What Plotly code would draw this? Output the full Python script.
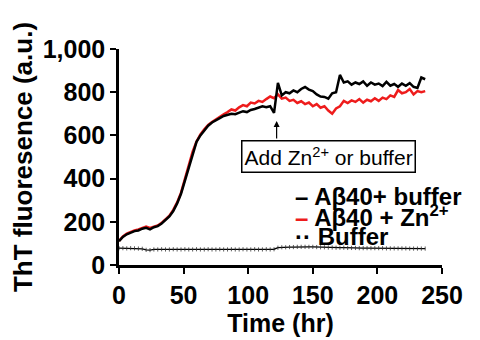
import plotly.graph_objects as go

time_hr = [0, 3, 6, 9, 12, 15, 18, 21, 24, 27, 30, 33, 36, 39, 42, 45, 48, 51, 54, 57,
           60, 63, 66, 69, 72, 75, 78, 81, 84, 87, 90, 93, 96, 99, 102, 105, 108, 111, 114, 117,
           120, 123, 126, 129, 132, 135, 138, 141, 144, 147, 150, 153, 156, 159, 162, 165, 168, 171, 174, 177,
           180, 183, 186, 189, 192, 195, 198, 201, 204, 207, 210, 213, 216, 219, 222, 225, 228, 231, 234, 237]

abeta_buffer = [110, 130, 142, 150, 157, 160, 168, 172, 165, 175, 180, 192, 210, 225, 250, 285, 330, 390, 450, 520,
                570, 600, 625, 645, 660, 672, 680, 690, 695, 700, 698, 705, 712, 708, 718, 722, 728, 735, 730, 735,
                704, 843, 785, 800, 795, 808, 800, 815, 824, 812, 805, 790, 780, 778, 770, 795, 800, 880, 845, 850,
                835, 845, 838, 850, 830, 845, 835, 840, 828, 848, 830, 838, 825, 840, 830, 842, 825, 820, 868, 860]

abeta_zn = [112, 132, 145, 153, 160, 165, 172, 178, 172, 178, 183, 195, 212, 228, 255, 290, 335, 395, 455, 525,
            572, 605, 628, 648, 662, 675, 685, 698, 708, 720, 715, 730, 740, 735, 752, 748, 760, 755, 768, 780,
            772, 790, 770, 775, 760, 765, 750, 758, 745, 752, 735, 745, 728, 735, 715, 700, 725, 735, 760, 750,
            762, 755, 768, 752, 765, 758, 772, 760, 775, 768, 785, 778, 810, 795, 800, 815, 790, 805, 800, 805]

buffer_only = [78, 78, 77, 78, 77, 76, 75, 70, 69, 72, 72, 73, 72, 72, 73, 72, 72, 73, 72, 72,
               73, 72, 72, 73, 72, 72, 73, 72, 72, 73, 72, 72, 73, 72, 72, 73, 72, 72, 73, 72,
               73, 80, 82, 82, 83, 83, 84, 84, 84, 84, 84, 83, 82, 82, 81, 81, 80, 80, 80, 79,
               79, 79, 78, 78, 78, 78, 78, 78, 78, 77, 77, 77, 77, 77, 77, 76, 76, 76, 76, 76]

x_ticks = [0, 50, 100, 150, 200, 250]
y_ticks = [0, 200, 400, 600, 800, 1000]

FONT = "Liberation Sans, Arial, sans-serif"

fig = go.Figure()
fig.add_trace(go.Scatter(x=time_hr, y=buffer_only, mode="lines+markers",
                         line=dict(color="black", width=1.3),
                         marker=dict(symbol="line-ns-open", size=3, color="#333",
                                     line=dict(width=0.8, color="#333")),
                         showlegend=False))
fig.add_trace(go.Scatter(x=time_hr, y=abeta_zn, mode="lines",
                         line=dict(color="#ee1c1c", width=2.5), showlegend=False))
fig.add_trace(go.Scatter(x=time_hr, y=abeta_buffer, mode="lines",
                         line=dict(color="black", width=2.5), showlegend=False))

axis_common = dict(showline=True, linecolor="black", linewidth=2.5, ticks="outside",
                   ticklen=6, tickwidth=2, tickcolor="black", showgrid=False, zeroline=False,
                   automargin=False,
                   tickfont=dict(family=FONT, size=25, color="black", weight="bold"))

fig.update_xaxes(range=[0, 250], tickvals=x_ticks, **axis_common,
                 title=dict(text="Time (hr)", font=dict(family=FONT, size=25, color="black", weight="bold"),
                            standoff=6))
fig.update_yaxes(range=[0, 1000], tickvals=y_ticks, tickformat=",", **axis_common,
                 title=dict(text="ThT fluoresence (a.u.)",
                            font=dict(family=FONT, size=26, color="black", weight="bold"), standoff=4))

# box annotation
fig.add_annotation(x=161.8, y=502, xref="x", yref="y", text="Add Zn<sup>2+</sup> or buffer",
                   showarrow=False, font=dict(family=FONT, size=21, color="black"),
                   bordercolor="black", borderwidth=1.5, borderpad=2, bgcolor="white")
# arrow
fig.add_annotation(x=122, y=667, ax=122, ay=579, xref="x", yref="y", axref="x", ayref="y",
                   text="", showarrow=True, arrowhead=2, arrowsize=1, arrowwidth=1.2, arrowcolor="black")

# legend (as text)
legend_rows = [
    ("black", "–", "Aβ40+ buffer", 315),
    ("#ee1c1c", "–", "Aβ40 + Zn<sup>2+</sup>", 225),
    ("black", "··", "Buffer", 132),
]
for color, key, label, yv in legend_rows:
    fig.add_annotation(x=135, y=yv, xref="x", yref="y", xanchor="left", yanchor="middle",
                       text=f"<span style='color:{color}'>{key}</span> {label}", showarrow=False,
                       font=dict(family=FONT, size=24, color="black", weight="bold"))

# the page body adds an 8px offset, so the figure is 8px smaller in each direction
fig.update_layout(width=472, height=332, margin=dict(l=111, r=38, t=41, b=75),
                  plot_bgcolor="white", paper_bgcolor="white")

fig.write_html("out.html")
